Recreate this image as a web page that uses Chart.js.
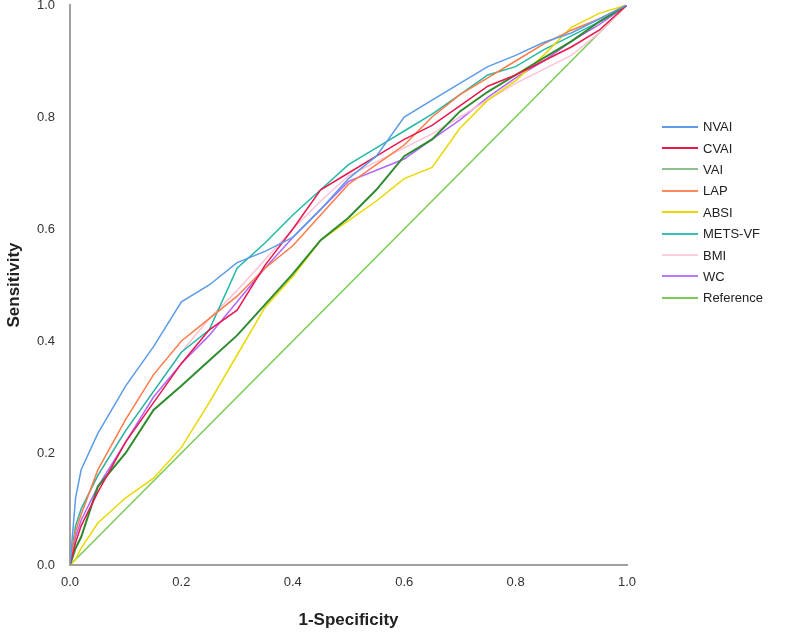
<!DOCTYPE html>
<html>
<head>
<meta charset="utf-8">
<script src="https://cdn.jsdelivr.net/npm/chart.js@4.4.1/dist/chart.umd.min.js"></script>
<style>
    body { margin: 0; background: #fff; font-family: "Liberation Sans", Arial, sans-serif; }
    #wrap { position: relative; width: 786px; height: 635px; }
    #legend { position: absolute; left: 662px; top: 116px; }
    .row { height: 21.4px; display: flex; align-items: center; font-size: 13px; color: #222; }
    .swatch { width: 36px; height: 2px; margin-right: 5px; }
</style>
</head>
<body>
<div id="wrap">
    <canvas id="mycanvas" width="786" height="635"></canvas>
    <div id="legend"></div>
</div>
<script>
// false positive rate (1-specificity) where each curve was read
const fpr = [0, 0.01, 0.02, 0.05, 0.1, 0.15, 0.2, 0.25, 0.3, 0.35, 0.4, 0.45, 0.5, 0.55, 0.6, 0.65, 0.7, 0.75, 0.8, 0.85, 0.9, 0.95, 1];

const nvai    = [0, 0.12, 0.17, 0.235, 0.32, 0.39, 0.47, 0.50, 0.54, 0.56, 0.585, 0.635, 0.69, 0.73, 0.80, 0.83, 0.86, 0.89, 0.91, 0.933, 0.95, 0.975, 1];
const cvai    = [0, 0.04, 0.07, 0.13, 0.22, 0.29, 0.36, 0.42, 0.455, 0.535, 0.60, 0.67, 0.70, 0.73, 0.76, 0.785, 0.82, 0.855, 0.875, 0.90, 0.925, 0.955, 1];
const vai     = [0, 0.03, 0.05, 0.14, 0.20, 0.277, 0.32, 0.365, 0.41, 0.465, 0.52, 0.58, 0.62, 0.67, 0.73, 0.76, 0.81, 0.845, 0.875, 0.905, 0.935, 0.97, 1];
const lap     = [0, 0.06, 0.09, 0.17, 0.26, 0.34, 0.40, 0.44, 0.48, 0.53, 0.57, 0.625, 0.68, 0.715, 0.75, 0.80, 0.84, 0.87, 0.90, 0.93, 0.955, 0.975, 1];
const absi    = [0, 0.01, 0.03, 0.075, 0.12, 0.155, 0.21, 0.29, 0.375, 0.46, 0.515, 0.58, 0.615, 0.65, 0.69, 0.71, 0.78, 0.83, 0.865, 0.91, 0.96, 0.985, 1];
const metsvf  = [0, 0.07, 0.10, 0.16, 0.24, 0.31, 0.38, 0.42, 0.53, 0.575, 0.625, 0.67, 0.715, 0.745, 0.775, 0.805, 0.84, 0.875, 0.89, 0.92, 0.945, 0.97, 1];
const bmi     = [0, 0.07, 0.10, 0.16, 0.24, 0.31, 0.38, 0.44, 0.49, 0.545, 0.60, 0.65, 0.695, 0.72, 0.745, 0.77, 0.80, 0.83, 0.86, 0.885, 0.91, 0.95, 1];
const wc      = [0, 0.05, 0.08, 0.14, 0.22, 0.30, 0.36, 0.41, 0.47, 0.53, 0.585, 0.635, 0.685, 0.705, 0.725, 0.76, 0.795, 0.835, 0.87, 0.90, 0.935, 0.965, 1];
const refX    = [0, 1];
const refY    = [0, 1];

const names   = ['NVAI', 'CVAI', 'VAI', 'LAP', 'ABSI', 'METS-VF', 'BMI', 'WC'];
const values  = [nvai, cvai, vai, lap, absi, metsvf, bmi, wc];
const colors  = ['#5b9be8', '#e8174c', '#2e8b2e', '#ff7a45', '#e8d800', '#22b8a6', '#ffc2d6', '#b266ff'];
const legendColors = ['#5b9be8', '#e8174c', '#8fbf8f', '#ff8a5a', '#e8d800', '#35c2b2', '#ffcde0', '#b97aff'];

const toPoints = (xs, ys) => xs.map((x, i) => ({x: x, y: ys[i]}));

const datasets = names.map((n, i) => ({
    label: n,
    data: toPoints(fpr, values[i]),
    borderColor: colors[i],
    backgroundColor: colors[i],
    borderWidth: n === 'VAI' ? 2 : 1.5,
    pointRadius: 0,
    tension: 0
}));
datasets.push({
    label: 'Reference',
    data: toPoints(refX, refY),
    borderColor: '#77cc55',
    backgroundColor: '#77cc55',
    borderWidth: 1.5,
    pointRadius: 0
});
legendColors.push('#77cc55');

const ctx = document.getElementById('mycanvas').getContext('2d');
const myChart = new Chart(ctx, {
    type: 'line',
    data: {datasets: datasets},
    options: {
        responsive: false,
        animation: {duration: 0},
        layout: {padding: {top: 5, right: 159, left: 0, bottom: 0}},
        plugins: {legend: {display: false}, tooltip: {enabled: false}},
        scales: {
            x: {
                type: 'linear', min: 0, max: 1,
                grid: {display: false},
                border: {color: '#a0a0a0', width: 2},
                ticks: {stepSize: 0.2, color: '#333', font: {size: 13, family: 'Liberation Sans'},
                    callback: v => v.toFixed(1), padding: 2, maxRotation: 0},
                title: {display: true, text: '1-Specificity', color: '#222',
                    font: {size: 17, weight: 'bold', family: 'Liberation Sans'}, padding: {top: 14}},
                afterFit: s => { s.height = 70; s.paddingRight = 0; }
            },
            y: {
                min: 0, max: 1,
                grid: {display: false},
                border: {color: '#a0a0a0', width: 2},
                ticks: {stepSize: 0.2, color: '#333', font: {size: 13, family: 'Liberation Sans'},
                    callback: v => v.toFixed(1), padding: 7},
                title: {display: true, text: 'Sensitivity', color: '#222',
                    font: {size: 17, weight: 'bold', family: 'Liberation Sans'}, padding: {bottom: 8}},
                afterFit: s => { s.width = 70; s.paddingTop = 0; s.paddingBottom = 0; }
            }
        }
    }
});

const legend = document.getElementById('legend');
datasets.forEach((d, i) => {
    const row = document.createElement('div');
    row.className = 'row';
    row.innerHTML = '<span class="swatch" style="background:' + legendColors[i] + '"></span>' + d.label;
    legend.appendChild(row);
});
</script>
</body>
</html>
